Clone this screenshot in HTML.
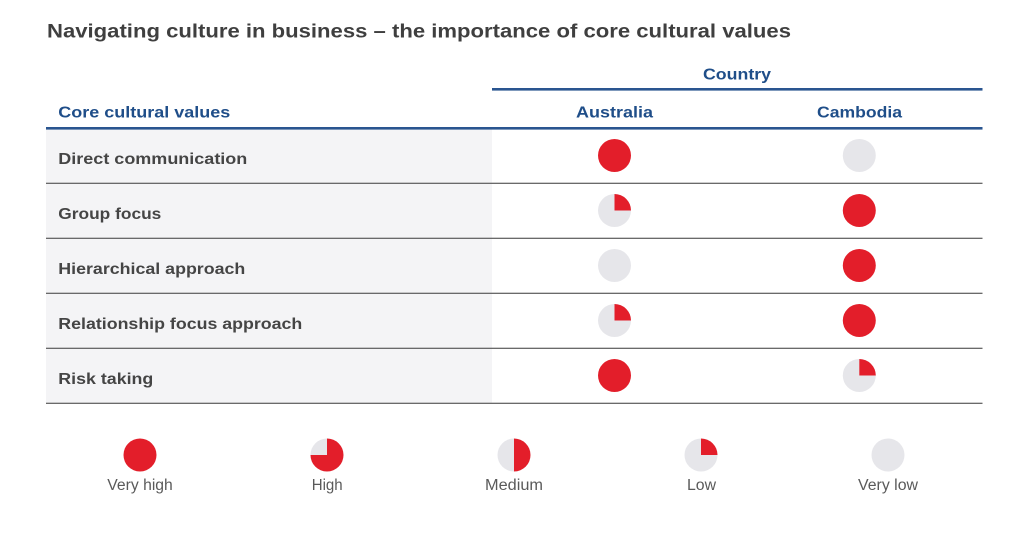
<!DOCTYPE html>
<html>
<head>
<meta charset="utf-8">
<style>
  html, body { margin:0; padding:0; background:#ffffff; }
  svg { display:block; }
  .t { font-family:"Liberation Sans", sans-serif; }
</style>
</head>
<body>
<svg width="1024" height="544" viewBox="0 0 1024 544" xmlns="http://www.w3.org/2000/svg">
  <rect x="0" y="0" width="1024" height="544" fill="#ffffff"/>
  <!-- Title -->
  <text class="t" x="47" y="37.5" font-size="19" font-weight="bold" fill="#3f3f3f" textLength="744" lengthAdjust="spacingAndGlyphs">Navigating culture in business – the importance of core cultural values</text>

  <!-- left column background -->
  <rect x="46" y="129" width="446" height="274" fill="#f4f4f6"/>

  <!-- Country header -->
  <text class="t" x="703" y="79.3" font-size="16" font-weight="bold" fill="#1f4e89" textLength="68" lengthAdjust="spacingAndGlyphs">Country</text>
  <rect x="492" y="88" width="490.5" height="2.6" fill="#2a5590"/>

  <text class="t" x="58.3" y="117.3" font-size="16" font-weight="bold" fill="#1f4e89" textLength="172" lengthAdjust="spacingAndGlyphs">Core cultural values</text>
  <text class="t" x="576" y="117.5" font-size="16" font-weight="bold" fill="#1f4e89" textLength="77" lengthAdjust="spacingAndGlyphs">Australia</text>
  <text class="t" x="817" y="117.5" font-size="16" font-weight="bold" fill="#1f4e89" textLength="85" lengthAdjust="spacingAndGlyphs">Cambodia</text>
  <rect x="46" y="127" width="936.5" height="2.6" fill="#2a5590"/>

  <!-- row lines -->
  <rect x="46" y="182.7" width="936.5" height="1.2" fill="#5a5a5a"/>
  <rect x="46" y="237.7" width="936.5" height="1.2" fill="#5a5a5a"/>
  <rect x="46" y="292.7" width="936.5" height="1.2" fill="#5a5a5a"/>
  <rect x="46" y="347.7" width="936.5" height="1.2" fill="#5a5a5a"/>
  <rect x="46" y="402.7" width="936.5" height="1.2" fill="#5a5a5a"/>

  <!-- row labels -->
  <g class="t" font-size="16" font-weight="bold" fill="#454545">
    <text x="58.3" y="164" textLength="189" lengthAdjust="spacingAndGlyphs">Direct communication</text>
    <text x="58.3" y="219" textLength="103" lengthAdjust="spacingAndGlyphs">Group focus</text>
    <text x="58.3" y="274" textLength="187" lengthAdjust="spacingAndGlyphs">Hierarchical approach</text>
    <text x="58.3" y="329" textLength="244" lengthAdjust="spacingAndGlyphs">Relationship focus approach</text>
    <text x="58.3" y="384" textLength="95" lengthAdjust="spacingAndGlyphs">Risk taking</text>
  </g>

  <!-- table circles -->
  <circle cx="614.5" cy="155.5" r="16.5" fill="#e31e2a"/>
  <circle cx="859.3" cy="155.5" r="16.5" fill="#e6e6ea"/>

  <circle cx="614.5" cy="210.5" r="16.5" fill="#e6e6ea"/>
  <path d="M614.5 210.5 L614.5 194 A16.5 16.5 0 0 1 631 210.5 Z" fill="#e31e2a"/>
  <circle cx="859.3" cy="210.5" r="16.5" fill="#e31e2a"/>

  <circle cx="614.5" cy="265.5" r="16.5" fill="#e6e6ea"/>
  <circle cx="859.3" cy="265.5" r="16.5" fill="#e31e2a"/>

  <circle cx="614.5" cy="320.5" r="16.5" fill="#e6e6ea"/>
  <path d="M614.5 320.5 L614.5 304 A16.5 16.5 0 0 1 631 320.5 Z" fill="#e31e2a"/>
  <circle cx="859.3" cy="320.5" r="16.5" fill="#e31e2a"/>

  <circle cx="614.5" cy="375.5" r="16.5" fill="#e31e2a"/>
  <circle cx="859.3" cy="375.5" r="16.5" fill="#e6e6ea"/>
  <path d="M859.3 375.5 L859.3 359 A16.5 16.5 0 0 1 875.8 375.5 Z" fill="#e31e2a"/>

  <!-- Legend -->
  <circle cx="140" cy="455" r="16.5" fill="#e31e2a"/>

  <circle cx="327" cy="455" r="16.5" fill="#e6e6ea"/>
  <path d="M327 455 L327 438.5 A16.5 16.5 0 1 1 310.5 455 Z" fill="#e31e2a"/>

  <circle cx="514" cy="455" r="16.5" fill="#e6e6ea"/>
  <path d="M514 438.5 A16.5 16.5 0 0 1 514 471.5 Z" fill="#e31e2a"/>

  <circle cx="701" cy="455" r="16.5" fill="#e6e6ea"/>
  <path d="M701 455 L701 438.5 A16.5 16.5 0 0 1 717.5 455 Z" fill="#e31e2a"/>

  <circle cx="888" cy="455" r="16.5" fill="#e6e6ea"/>

  <g class="t" font-size="15.5" fill="#5a5a5a">
    <text x="107.3" y="490" textLength="65.5" lengthAdjust="spacingAndGlyphs">Very high</text>
    <text x="311.7" y="490" textLength="31" lengthAdjust="spacingAndGlyphs">High</text>
    <text x="485" y="490" textLength="58" lengthAdjust="spacingAndGlyphs">Medium</text>
    <text x="687" y="490" textLength="29" lengthAdjust="spacingAndGlyphs">Low</text>
    <text x="858" y="490" textLength="60" lengthAdjust="spacingAndGlyphs">Very low</text>
  </g>
</svg>
</body>
</html>
